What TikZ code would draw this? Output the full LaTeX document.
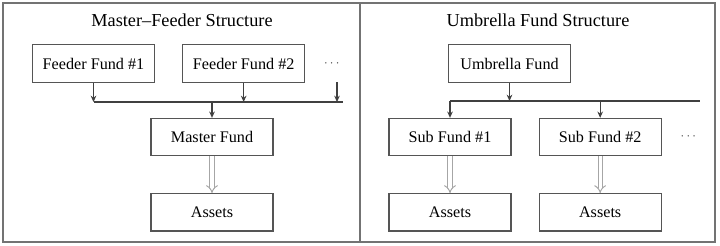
\documentclass[tikz,border=0pt]{standalone}
\usepackage{fontspec}
\setmainfont{Liberation Serif}
\usetikzlibrary{positioning, arrows.meta}
\definecolor{lcolor}{HTML}{555555}

\begin{document}
\begin{tikzpicture}[x=0.025cm, y=-0.025cm,
    box/.style={rectangle, draw=lcolor, line width=0.8pt, minimum width=3.05cm, minimum height=0.93cm, align=center, font=\fontsize{11.5}{13}\selectfont},
    ttl/.style={font=\fontsize{13}{15}\selectfont},
    dts/.style={font=\fontsize{9}{10}\selectfont, text=black!75},
    arr/.style={-{Stealth[length=4.5pt, width=4pt]}, line width=0.8pt, draw=black!75},
    dbl/.style={-{Implies}, double=white, double distance=2.2pt, line width=0.7pt, draw=black!35},
    panel/.style={draw=black!55, line width=1pt},
  ]
    \useasboundingbox (0,0) rectangle (720,245);
    \draw[panel] (3,3) rectangle (360,242);
    \draw[panel] (360,3) rectangle (715,242);

    % master-feeder
    \node[ttl] (ltitle) at (182,20) {Master–Feeder Structure};
    \node[box] (feed1) at (93.5,63.5) {Feeder Fund \#1};
    \node[box, right=0.675cm of feed1] (feed2) {Feeder Fund \#2};
    \node[dts, right=0.35cm of feed2] (fdots) {$\cdots$};
    \node[box] (master) at (212,137) {Master Fund};
    \node[box, below=0.925cm of master] (lassets) {Assets};

    \coordinate (lbus) at (0,102);
    \coordinate (lbusend) at (343,102);
    \coordinate (ltail) at (337,82);
    \draw[line width=0.8pt, draw=black!75] (feed1 |- lbus) -- (lbusend);
    \draw[arr] (feed1) -- (feed1 |- lbus);
    \draw[arr] (feed2) -- (feed2 |- lbus);
    \draw[arr] (ltail) -- (ltail |- lbus);
    \draw[arr] (master |- lbus) -- (master);
    \draw[dbl] (master) -- (lassets);

    % umbrella
    \node[ttl] (rtitle) at (538,20) {Umbrella Fund Structure};
    \node[box] (umb) at (509.5,63.5) {Umbrella Fund};
    \node[box] (sub1) at (450,137) {Sub Fund \#1};
    \node[box, right=0.675cm of sub1] (sub2) {Sub Fund \#2};
    \node[dts, right=0.35cm of sub2] (sdots) {$\cdots$};
    \node[box, below=0.925cm of sub1] (rassets1) {Assets};
    \node[box, below=0.925cm of sub2] (rassets2) {Assets};

    \coordinate (rbus) at (0,101);
    \coordinate (rbusend) at (700,101);
    \draw[line width=0.8pt, draw=black!75] (sub1 |- rbus) -- (rbusend);
    \draw[arr] (umb) -- (umb |- rbus);
    \draw[arr] (sub1 |- rbus) -- (sub1);
    \draw[arr] (sub2 |- rbus) -- (sub2);
    \draw[dbl] (sub1) -- (rassets1);
    \draw[dbl] (sub2) -- (rassets2);
  \end{tikzpicture}
\end{document}
